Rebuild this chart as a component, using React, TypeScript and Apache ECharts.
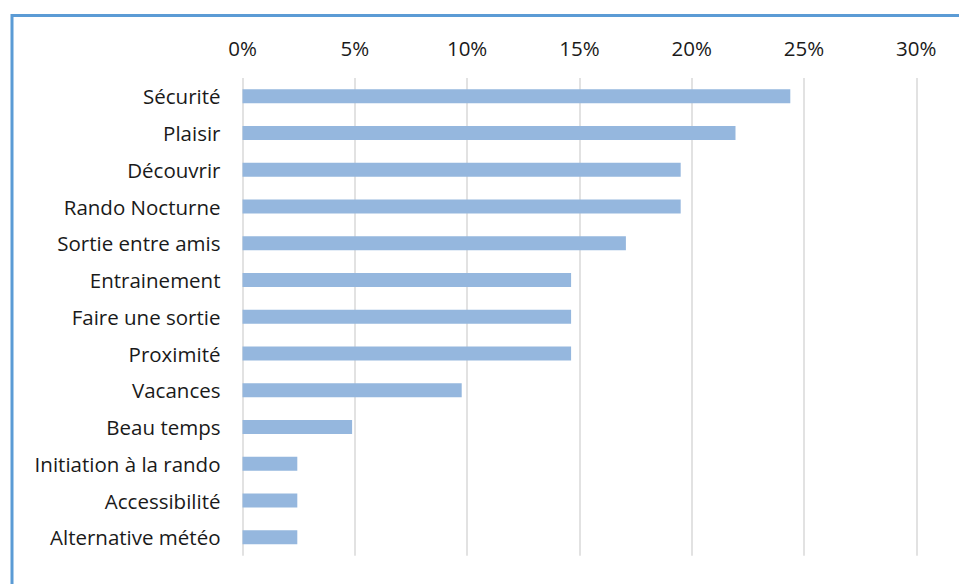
import React, { useEffect, useRef } from "react";
import * as echarts from "echarts";

const categories = [
  "Sécurité",
  "Plaisir",
  "Découvrir",
  "Rando Nocturne",
  "Sortie entre amis",
  "Entrainement",
  "Faire une sortie",
  "Proximité",
  "Vacances",
  "Beau temps",
  "Initiation à la rando",
  "Accessibilité",
  "Alternative météo",
];

const values = [24.39, 21.95, 19.51, 19.51, 17.07, 14.63, 14.63, 14.63, 9.76, 4.88, 2.44, 2.44, 2.44];

const xTicks = { min: 0, max: 30, interval: 5 };

export default function App() {
  const ref = useRef<HTMLDivElement>(null);
  useEffect(() => {
    const chart = echarts.init(ref.current!, null, { renderer: "svg" });
    const font = "Open Sans";
    chart.setOption({
      animation: false,
      backgroundColor: "#ffffff",
      grid: { left: 242.5, right: 42.7, top: 78, bottom: 28.3, containLabel: false },
      xAxis: {
        type: "value",
        position: "top",
        min: xTicks.min,
        max: xTicks.max,
        interval: xTicks.interval,
        axisLine: { show: false },
        axisTick: { show: false },
        axisLabel: {
          formatter: (v: number) => v + "%",
          fontFamily: font,
          fontSize: 20.5,
          color: "#1a1a1a",
          margin: 20,
        },
        splitLine: { show: true, lineStyle: { color: "#d9d9d9", width: 1.5 } },
      },
      yAxis: {
        type: "category",
        data: categories,
        inverse: true,
        axisLine: { show: false },
        axisTick: { show: false },
        axisLabel: {
          fontFamily: font,
          fontSize: 20.5,
          color: "#1a1a1a",
          margin: 22,
        },
      },
      series: [
        {
          type: "bar",
          data: values,
          barWidth: 14,
          itemStyle: { color: "#95b7de" },
        },
      ],
      graphic: [
        {
          type: "polyline",
          shape: { points: [[12, 584], [12, 15.5], [959, 15.5]] },
          style: { stroke: "#5b9bd5", lineWidth: 3, fill: null },
        },
      ],
    });
    return () => chart.dispose();
  }, []);
  return (
    <div
      ref={ref}
      style={{ position: "fixed", left: 0, top: 0, width: 959, height: 584 }}
    />
  );
}
